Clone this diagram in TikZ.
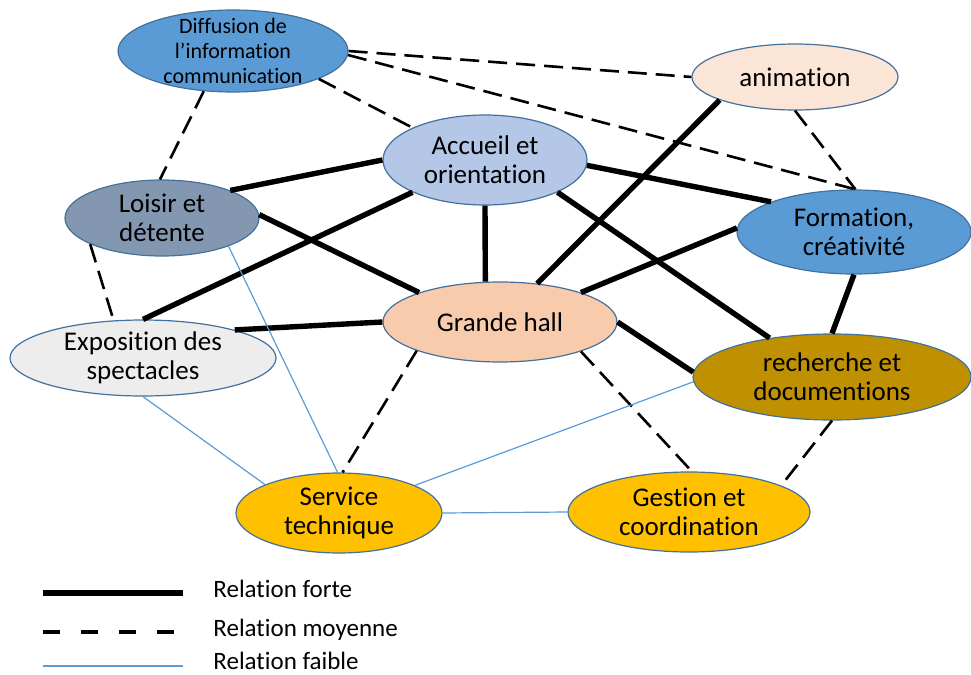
\documentclass[tikz,border=0pt]{standalone}
\usepackage{fontspec}
\setmainfont[Ligatures=NoCommon]{Carlito}
\usetikzlibrary{shapes.geometric,positioning}

\definecolor{contour}{HTML}{41719C}
\definecolor{bleu}{HTML}{5B9BD5}
\definecolor{bleuclair}{HTML}{B4C7E7}
\definecolor{peche}{HTML}{FBE5D6}
\definecolor{ardoise}{HTML}{8497B0}
\definecolor{gris}{HTML}{EDEDED}
\definecolor{saumon}{HTML}{F8CBAD}
\definecolor{ocre}{HTML}{BF9000}
\definecolor{jaune}{HTML}{FFC000}

\begin{document}
\begin{tikzpicture}[x=0.5pt, y=-0.5pt,
    bulle/.style={ellipse, draw=contour, line width=0.6pt, inner sep=0pt, align=center,
                  font=\fontsize{13.5}{14.5}\selectfont},
    forte/.style={line width=2.7pt},
    moyenne/.style={line width=1.3pt, dash pattern=on 9.5pt off 4.5pt},
    faible/.style={line width=0.6pt, color=bleu},
    legende/.style={anchor=base west, inner sep=0pt, font=\fontsize{12.5}{14}\selectfont}]
    \useasboundingbox (0,0) rectangle (971,675);

    \node[bulle, fill=bleu, minimum width=230pt/2, minimum height=82pt/2, inner ysep=-2.5pt,
          font=\fontsize{11}{12.5}\selectfont]           (diff) at (233,51)  {Diffusion de\\l’information\\communication};
    \node[bulle, fill=bleuclair, minimum width=102pt, minimum height=45pt] (acc)  at (485,160) {Accueil et\\orientation};
    \node[bulle, fill=peche,     minimum width=103pt, minimum height=33pt] (anim) at (795,77)  {animation};
    \node[bulle, fill=bleu,      minimum width=117pt, minimum height=42pt] (form) at (854,232) {Formation,\\créativité};
    \node[bulle, fill=ardoise,   minimum width=97pt,  minimum height=38pt] (lois) at (162,218) {Loisir et\\détente};
    \node[bulle, fill=gris,      minimum width=133pt, minimum height=38pt] (expo) at (143,358) {Exposition des\\spectacles};
    \node[bulle, fill=saumon,    minimum width=117pt, minimum height=40pt] (hall) at (500,322) {Grande hall};
    \node[bulle, fill=ocre,      minimum width=139pt, minimum height=43pt] (rech) at (832,377) {recherche et\\documentions};
    \node[bulle, fill=jaune,     minimum width=103pt, minimum height=40pt] (serv) at (339,513) {Service\\technique};
    \node[bulle, fill=jaune,     minimum width=121pt, minimum height=40pt] (gest) at (689,512) {Gestion et\\coordination};

    % relations fortes
    \path[forte] (acc.180) edge (lois.22)
                 (acc.204) edge (expo.90)
                 (acc.270) edge (hall.110)
                 (acc.357) edge (form.160)
                 (acc.336) edge (rech.148)
                 (lois.2)  edge (hall.160)
                 (expo.17) edge (hall.180)
                 (anim.197) edge (hall.46)
                 (hall.20) edge (form.178)
                 (hall.0)  edge (rech.178)
                 (form.270) edge (rech.90);

    % relations moyennes
    \path[moyenne] (diff.0)   edge (anim.180)
                   (diff.358) edge (form.88)
                   (diff.342) edge (acc.156)
                   (diff.234) edge (lois.93)
                   (anim.270) edge (form.88)
                   (lois.200) edge (expo.128)
                   (hall.199) edge (serv.85)
                   (hall.340) edge (gest.86)
                   (rech.270) edge (gest.16);

    % relations faibles
    \path[faible] (lois.337) edge (serv.92)
                  (expo.270) edge (serv.159)
                  (rech.182) edge (serv.20)
                  (serv.0)   edge (gest.180);

    % legende
    \coordinate (fa) at (43,593);  \coordinate (fb) at (183,593);
    \coordinate (ma) at (43,632);  \coordinate (mb) at (183,632);
    \coordinate (wa) at (43,666);  \coordinate (wb) at (183,666);
    \draw[forte, line width=3.2pt] (fa) -- (fb);
    \draw[moyenne, line width=1.6pt, dash pattern=on 8.5pt off 10.5pt] (ma) -- (mb);
    \draw[faible] (wa) -- (wb);
    \node[legende] (lforte)   at (213,597) {Relation forte};
    \node[legende] (lmoyenne) at (213,636) {Relation moyenne};
    \node[legende] (lfaible)  at (213,669) {Relation faible};
\end{tikzpicture}
\end{document}
